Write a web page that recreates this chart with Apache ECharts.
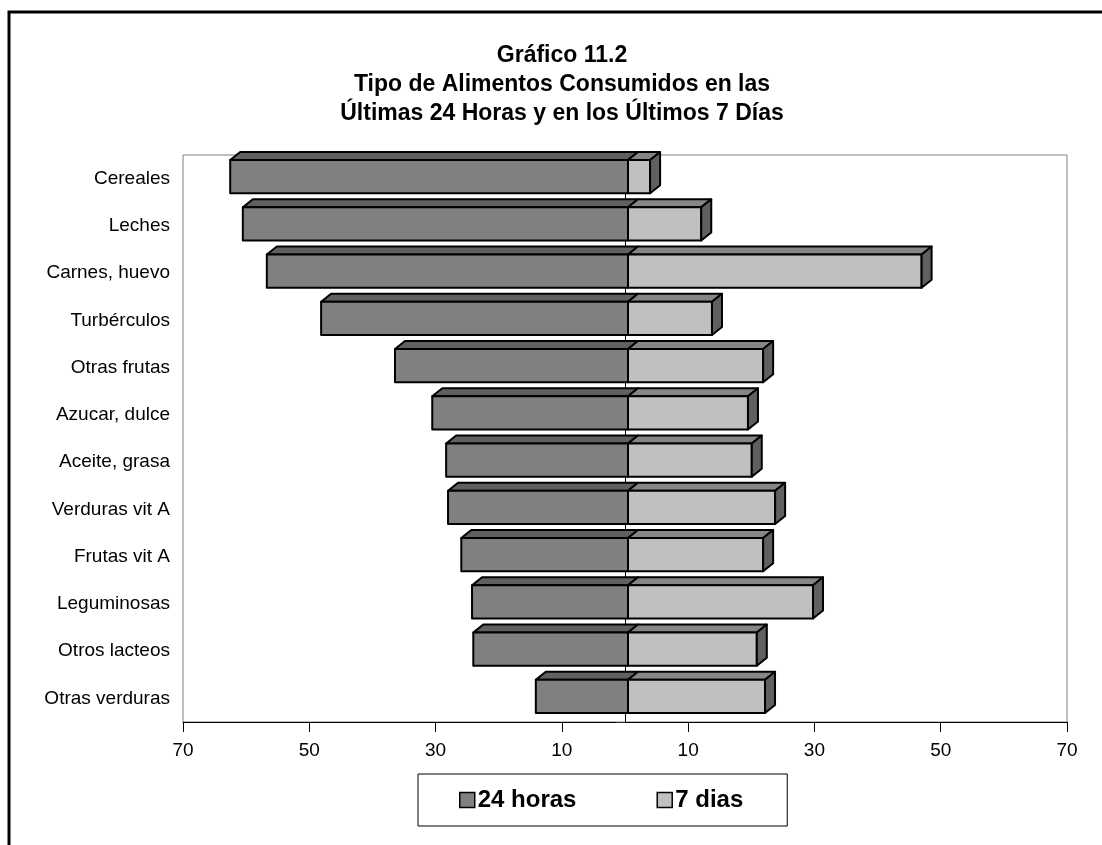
<!DOCTYPE html>
<html>
<head>
<meta charset="utf-8">
<script src="https://cdn.jsdelivr.net/npm/echarts@6/dist/echarts.min.js"></script>
<style>
html,body{margin:0;padding:0;background:#fff;}
#chart{width:1102px;height:845px;}
</style>
</head>
<body>
<div id="chart"></div>
<script>
const categories = ['Cereales','Leches','Carnes, huevo','Turbérculos','Otras frutas','Azucar, dulce','Aceite, grasa','Verduras vit A','Frutas vit A','Leguminosas','Otros lacteos','Otras verduras'];
const horas24 = [63.0, 61.0, 57.2, 48.6, 36.9, 31.0, 28.8, 28.5, 26.4, 24.7, 24.5, 14.6];
const dias7 = [3.5, 11.6, 46.5, 13.3, 21.4, 19.0, 19.6, 23.3, 21.4, 29.3, 20.4, 21.7];
const seriesNames = ['24 horas', '7 dias'];
const titleLines = ['Gráfico 11.2', 'Tipo de Alimentos Consumidos en las', 'Últimas 24 Horas y en los Últimos 7 Días'];

const FONT = '"Liberation Sans", Arial, sans-serif';
const DX = 10, DY = -8, SHIFT = 3;

function make3D(frontColor, topColor, sideColor) {
  return function (params, api) {
    const v = api.value(0), c = api.value(1);
    const p0 = api.coord([0, c]);
    const p1 = api.coord([v, c]);
    const band = api.size([0, 1])[1];
    const h = band * 0.7;
    const yc = p0[1] - 2;
    const yt = yc - h / 2, yb = yc + h / 2;
    const x0 = p0[0] + SHIFT, x1 = p1[0] + SHIFT;
    const xl = Math.min(x0, x1), xr = Math.max(x0, x1);
    const stroke = {stroke: '#000', lineWidth: 2, lineJoin: 'round'};
    const children = [
      {type: 'polygon', shape: {points: [[xl, yt], [xl + DX, yt + DY], [xr + DX, yt + DY], [xr, yt]]},
       style: Object.assign({fill: topColor}, stroke)},
      {type: 'rect', shape: {x: xl, y: yt, width: xr - xl, height: h},
       style: Object.assign({fill: frontColor}, stroke)}
    ];
    if (v > 0) {
      children.push({type: 'polygon', shape: {points: [[xr, yt], [xr + DX, yt + DY], [xr + DX, yb + DY], [xr, yb]]},
        style: Object.assign({fill: sideColor}, stroke)});
    }
    return {type: 'group', children: children};
  };
}

const chart = echarts.init(document.getElementById('chart'), null, {renderer: 'canvas'});
chart.setOption({
  animation: false,
  backgroundColor: '#fff',
  title: {
    text: titleLines.join('\n'),
    left: 557, top: 36, textAlign: 'center',
    textStyle: {fontFamily: FONT, fontWeight: 'bold', fontSize: 23, lineHeight: 29, color: '#000'}
  },
  legend: {
    left: 418, top: 774,
    padding: [14, 44, 14, 41],
    itemGap: 80, itemWidth: 15, itemHeight: 15,
    backgroundColor: '#fff', borderColor: '#000', borderWidth: 1,
    selectedMode: false,
    textStyle: {fontFamily: FONT, fontWeight: 'bold', fontSize: 24, lineHeight: 24, color: '#000', padding: [0, 0, 0, -2]},
    data: [
      {name: seriesNames[0], icon: 'rect', itemStyle: {color: '#808080', borderColor: '#000', borderWidth: 1.5}},
      {name: seriesNames[1], icon: 'rect', itemStyle: {color: '#c0c0c0', borderColor: '#000', borderWidth: 1.5}}
    ]
  },
  grid: {left: 183, right: 35, top: 155, bottom: 123, show: true, borderColor: '#808080', borderWidth: 1, backgroundColor: 'transparent'},
  xAxis: {
    type: 'value', min: -70, max: 70, interval: 20,
    axisLine: {show: true, lineStyle: {color: '#000', width: 1}},
    axisTick: {show: true, length: 10, lineStyle: {color: '#000'}},
    splitLine: {show: false},
    axisLabel: {fontFamily: FONT, fontSize: 19, color: '#000', margin: 19, formatter: v => String(Math.abs(v))}
  },
  yAxis: [
    {
      type: 'category', data: categories, inverse: true, position: 'left',
      axisLine: {show: false, onZero: false},
      axisTick: {show: false},
      axisLabel: {fontFamily: FONT, fontSize: 19, color: '#000', margin: 13}
    },
    {
      type: 'category', data: categories, inverse: true, position: 'left',
      axisLine: {show: true, onZero: true, lineStyle: {color: '#000', width: 1}},
      axisTick: {show: true, length: 9, lineStyle: {color: '#333'}},
      axisLabel: {show: false}
    }
  ],
  series: [
    {
      name: seriesNames[0], type: 'custom', yAxisIndex: 0,
      itemStyle: {color: '#808080'},
      renderItem: make3D('#808080', '#606060', '#606060'),
      encode: {x: 0, y: 1},
      data: horas24.map((v, i) => [-v, i])
    },
    {
      name: seriesNames[1], type: 'custom', yAxisIndex: 0,
      itemStyle: {color: '#c0c0c0'},
      renderItem: make3D('#c0c0c0', '#868686', '#606060'),
      encode: {x: 0, y: 1},
      data: dias7.map((v, i) => [v, i])
    }
  ],
  graphic: [
    {type: 'polyline', z: 100, shape: {points: [[9, 850], [9, 12], [1110, 12]]}, style: {stroke: '#000', lineWidth: 3, fill: null}}
  ]
});
</script>
</body>
</html>
